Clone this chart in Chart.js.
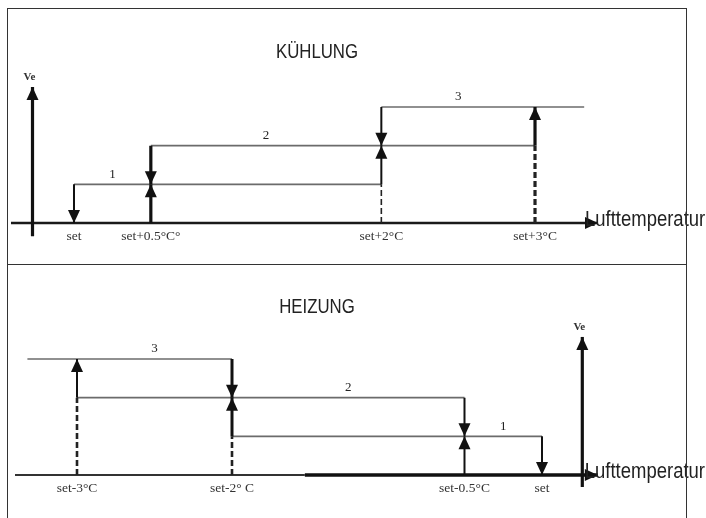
<!DOCTYPE html>
<html>
<head>
<meta charset="utf-8">
<script src="https://cdn.jsdelivr.net/npm/chart.js@4/dist/chart.umd.min.js"></script>
<style>
  html, body { margin: 0; padding: 0; background: #fff; }
  #wrap { position: relative; width: 706px; height: 518px; overflow: hidden; }
  canvas { position: absolute; left: 0; }
  #cool { top: 0; }
  #heat { top: 264px; }
  .frame { position: absolute; left: 7px; top: 8px; width: 678px; height: 600px;
           border: 1.5px solid #333; z-index: 5; }
  .divider { position: absolute; left: 7px; top: 264px; width: 680px; height: 0;
             border-top: 1.5px solid #333; z-index: 5; }
</style>
</head>
<body>
<div id="wrap">
  <canvas id="cool" width="706" height="264"></canvas>
  <canvas id="heat" width="706" height="254"></canvas>
  <div class="frame"></div>
  <div class="divider"></div>
</div>
<script>
// stages 1..3, switching points in °C relative to set
const levels = [1, 2, 3];
const coolOn = [0.5, 2, 3];
const coolOff = [0, 0.5, 2];
const coolTicks = [0, 0.5, 2, 3];
const coolTickLabels = ['set', 'set+0.5°C°', 'set+2°C', 'set+3°C'];

const heatOn = [-0.5, -2, -3];
const heatOff = [0, -0.5, -2];
const heatTicks = [-3, -2, -0.5, 0];
const heatTickLabels = ['set-3°C', 'set-2° C', 'set-0.5°C', 'set'];

const SANS = '"Liberation Sans", Arial, sans-serif';
const SERIF = '"Liberation Serif", "DejaVu Serif", serif';

function seg(a, b, opt) {
  return {
    data: [{x: a[0], y: a[1]}, {x: b[0], y: b[1]}],
    showLine: true,
    pointRadius: 0,
    borderColor: opt.color || '#111',
    borderWidth: opt.w || 2,
    borderDash: opt.dash || [],
    borderCapStyle: 'butt',
    arrow: !!opt.arrow,
    order: opt.order || 1
  };
}

function buildDatasets(on, off, ext, st) {
  const ds = [];
  levels.forEach((lv, i) => {
    const next = i + 1 < on.length ? on[i + 1] : ext.lvEnd;
    ds.push(seg([Math.min(off[i], next), lv], [Math.max(off[i], next), lv],
      {w: 1.6, color: '#6b6b6b', order: 3}));
    if (lv > 1) ds.push(seg([on[i], 0], [on[i], lv - 1], {w: st.dashW[i], dash: [6, 3], color: '#222'}));
    ds.push(seg([on[i], lv - 1], [on[i], lv], {w: st.upW[i], arrow: true}));
    ds.push(seg([off[i], lv], [off[i], lv - 1], {w: st.downW[i], arrow: true}));
  });
  ext.base.forEach((b, k) => {
    ds.push(seg([b[0], 0], [b[1], 0], {w: b[2], color: b[3], arrow: k === ext.base.length - 1, order: 2}));
  });
  ds.push(seg([ext.ve, ext.veY0], [ext.ve, ext.veY1], {w: 3.2, arrow: true}));
  return ds;
}

// condensed look: plain sans squeezed horizontally
function narrowText(ctx, text, x, y, align, sx) {
  ctx.save();
  ctx.translate(x, y);
  ctx.scale(sx, 1);
  ctx.textAlign = align;
  ctx.fillText(text, 0, 0);
  ctx.restore();
}

const diagramPlugin = {
  id: 'diagram',
  afterDatasetsDraw(chart, args, opts) {
    const ctx = chart.ctx;
    const xs = chart.scales.x, ys = chart.scales.y;
    ctx.save();
    // arrow heads
    chart.data.datasets.forEach((d, i) => {
      if (!d.arrow) return;
      const pts = chart.getDatasetMeta(i).data;
      const p1 = pts[pts.length - 2], p2 = pts[pts.length - 1];
      const ang = Math.atan2(p2.y - p1.y, p2.x - p1.x);
      const L = 13, W = 6;
      ctx.save();
      ctx.translate(p2.x, p2.y);
      ctx.rotate(ang);
      ctx.beginPath();
      ctx.moveTo(0, 0);
      ctx.lineTo(-L, -W);
      ctx.lineTo(-L, W);
      ctx.closePath();
      ctx.fillStyle = '#111';
      ctx.fill();
      ctx.restore();
    });
    // tick labels under the baseline
    ctx.fillStyle = '#333';
    ctx.font = '13.5px ' + SERIF;
    ctx.textAlign = 'center';
    ctx.textBaseline = 'middle';
    const y0 = ys.getPixelForValue(0);
    opts.ticks.forEach((t, k) => {
      ctx.fillText(opts.tickLabels[k], xs.getPixelForValue(t), y0 + 13);
    });
    // stage numbers
    ctx.fillStyle = '#222';
    ctx.font = '13px ' + SERIF;
    levels.forEach((lv, i) => {
      const mx = (opts.on[i] + opts.off[i]) / 2;
      ctx.fillText(String(lv), xs.getPixelForValue(mx), ys.getPixelForValue(lv) - 10);
    });
    // Ve label
    ctx.fillStyle = '#333';
    ctx.font = 'bold 11px ' + SERIF;
    ctx.fillText('Ve', xs.getPixelForValue(opts.ve) - 3, ys.getPixelForValue(opts.veY1) - 10);
    // title and axis label
    ctx.fillStyle = '#222';
    ctx.font = '21px ' + SANS;
    ctx.textBaseline = 'alphabetic';
    narrowText(ctx, opts.title, 317, opts.titleY, 'center', 0.8);
    ctx.font = '22px ' + SANS;
    narrowText(ctx, 'Lufttemperatur', xs.getPixelForValue(opts.baseEnd) - 13, y0 + 3, 'left', 0.84);
    ctx.restore();
  }
};

function makeChart(id, datasets, xr, yr, opts) {
  return new Chart(document.getElementById(id), {
    type: 'scatter',
    data: { datasets },
    options: {
      responsive: false,
      animation: false,
      devicePixelRatio: 1,
      layout: { padding: 0 },
      scales: {
        x: { type: 'linear', display: false, min: xr[0], max: xr[1] },
        y: { type: 'linear', display: false, min: yr[0], max: yr[1] }
      },
      plugins: {
        legend: { display: false },
        tooltip: { enabled: false },
        diagram: opts
      }
    },
    plugins: [diagramPlugin]
  });
}

const coolExt = { lvEnd: 3.32, ve: -0.27, veY0: -0.34, veY1: 3.52,
  base: [[-0.41, 3.41, 2.6, '#1a1a1a']] };
const heatExt = { lvEnd: -3.32, ve: 0.26, veY0: -0.31, veY1: 3.57,
  base: [[-3.4, -1.53, 2.2, '#333'], [-1.53, 0.36, 3.4, '#111']] };

makeChart('cool',
  buildDatasets(coolOn, coolOff, coolExt, {upW: [3.2, 2, 3.2], downW: [2, 3.2, 2], dashW: [0, 1.6, 3.2]}),
  [-0.4815, 4.1127], [-1.0603, 5.767],
  { title: 'KÜHLUNG', titleY: 58, ticks: coolTicks, tickLabels: coolTickLabels,
    on: coolOn, off: coolOff, ve: coolExt.ve, veY1: coolExt.veY1, baseEnd: 3.41 });

makeChart('heat',
  buildDatasets(heatOn, heatOff, heatExt, {upW: [2, 3, 2], downW: [2, 2, 3], dashW: [0, 2.6, 2.6]}),
  [-3.4968, 1.0581], [-1.112, 5.4565],
  { title: 'HEIZUNG', titleY: 49, ticks: heatTicks, tickLabels: heatTickLabels,
    on: heatOn, off: heatOff, ve: heatExt.ve, veY1: heatExt.veY1, baseEnd: 0.36 });
</script>
</body>
</html>
